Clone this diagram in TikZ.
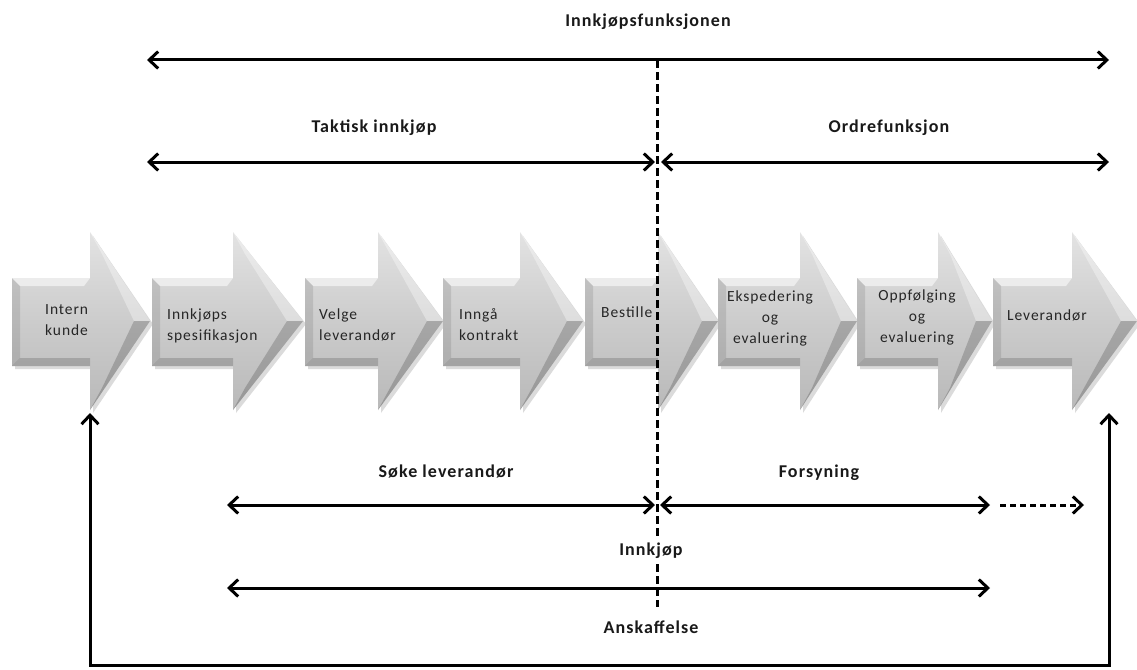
\documentclass[tikz,border=0pt]{standalone}
\usepackage{fontspec}
\setmainfont{Carlito}
\newfontfamily\labfont[LetterSpace=6]{Carlito}
\usetikzlibrary{arrows.meta}
\tikzset{
  lbl/.style={font=\labfont\bfseries\fontsize{18}{21}\selectfont, text=black!90, inner sep=1pt},
  boxtxt/.style={font=\labfont\fontsize{15.5}{21}\selectfont, text=black!85, inner sep=0pt},
  span/.style={line width=3pt, {Straight Barb[length=9pt,width=17pt,line width=3pt]}-{Straight Barb[length=9pt,width=17pt,line width=3pt]}},
  rspan/.style={line width=3pt, -{Straight Barb[length=9pt,width=17pt,line width=3pt]}},
  divider/.style={line width=3pt, dash pattern=on 8pt off 4pt},
}
\newcommand\chevron[4]{% name, L, H, T
  \fill[black, opacity=.14] (#2+3,281) -- (#3+3,281) -- (#3+3,236) -- (#4+3,324) -- (#3+3,413) -- (#3+3,369) -- (#2+3,369) -- cycle;
  \shade[top color=gray!22, bottom color=gray!55, middle color=gray!40]
    (#2,278) -- (#3,278) -- (#3,232) -- (#4,321) -- (#3,410) -- (#3,366) -- (#2,366) -- cycle;
  % bevels
  \fill[white, opacity=.55] (#2,278) -- (#3,278) -- (#3-6,286) -- (#2+8,286) -- cycle;
  \fill[black, opacity=.10] (#2,278) -- (#2+8,286) -- (#2+8,358) -- (#2,366) -- cycle;
  \fill[black, opacity=.16] (#2,366) -- (#2+8,358) -- (#3,358) -- (#3,366) -- cycle;
  \fill[white, opacity=.35] (#3,232) -- (#3+12,254) -- (#4-16,321) -- (#4,321) -- cycle;
  \fill[black, opacity=.18] (#3,410) -- (#3+12,388) -- (#4-16,321) -- (#4,321) -- cycle;
  \coordinate (#1) at (#3,321);
}
\begin{document}
\begin{tikzpicture}[x=1pt,y=-1pt]
\useasboundingbox (0,0) rectangle (1137,669);
\fill[white] (0,0) rectangle (1137,669);

% process chevrons
\chevron{c1}{12}{90}{150}
\chevron{c2}{152}{233}{303}
\chevron{c3}{305}{378}{443}
\chevron{c4}{443}{520}{583}
\chevron{c5}{585}{658}{718}
\chevron{c6}{718}{800}{857}
\chevron{c7}{857}{938}{992}
\chevron{c8}{993}{1072}{1137}

\node[boxtxt, anchor=base west, align=left] (t1) at (45,335) {Intern\\kunde};
\node[boxtxt, anchor=base west, align=left] (t2) at (167,340) {Innkjøps\\spesifikasjon};
\node[boxtxt, anchor=base west, align=left] (t3) at (319,340) {Velge\\leverandør};
\node[boxtxt, anchor=base west, align=left] (t4) at (459,340) {Inngå\\kontrakt};
\node[boxtxt, anchor=base west, align=left] (t5) at (601,317) {Bestille};
\node[boxtxt, anchor=base, align=center] (t6) at (770,343) {Ekspedering\\og\\evaluering};
\node[boxtxt, anchor=base, align=center] (t7) at (917,342) {Oppfølging\\og\\evaluering};
\node[boxtxt, anchor=base west, align=left] (t8) at (1007,320) {Leverandør};

% coordinates
\coordinate (topL) at (147,60);
\coordinate (topR) at (1109,60);
\coordinate (divTop) at (657,60);
\coordinate (divBot) at (657,607);
\coordinate (takL) at (147,162);
\coordinate (takR) at (655,162);
\coordinate (ordL) at (661,162);
\coordinate (ordR) at (1109,162);
\coordinate (sokL) at (227,505);
\coordinate (sokR) at (655,505);
\coordinate (forL) at (660,505);
\coordinate (forR) at (990,505);
\coordinate (dotL) at (1000,505);
\coordinate (dotR) at (1084,505);
\coordinate (ansL) at (227,588);
\coordinate (ansR) at (990,588);
\coordinate (loopL) at (90,413);
\coordinate (loopR) at (1109,413);

% divider
\draw[divider] (divTop) -- (divBot);

% labels
\node[lbl] (l1) at (648,22) {Innkjøpsfunksjonen};
\node[lbl] (l2) at (374,128) {Taktisk innkjøp};
\node[lbl] (l3) at (889,128) {Ordrefunksjon};
\node[lbl] (l4) at (446,472) {Søke leverandør};
\node[lbl] (l5) at (819,473) {Forsyning};
\node[lbl, fill=white, inner ysep=5pt] (l6) at (651,551) {Innkjøp};
\node[lbl] (l7) at (651,627) {Anskaffelse};

% spans
\draw[span] (topL) -- (topR);
\draw[span] (takL) -- (takR);
\draw[span] (ordL) -- (ordR);
\draw[span] (sokL) -- (sokR);
\draw[span] (forL) -- (forR);
\draw[rspan, dash pattern=on 6pt off 4pt] (dotL) -- (dotR);
\draw[span] (ansL) -- (ansR);
\draw[span] (loopL) -- (90,665) -- (1109,665) -- (loopR);
\end{tikzpicture}
\end{document}
